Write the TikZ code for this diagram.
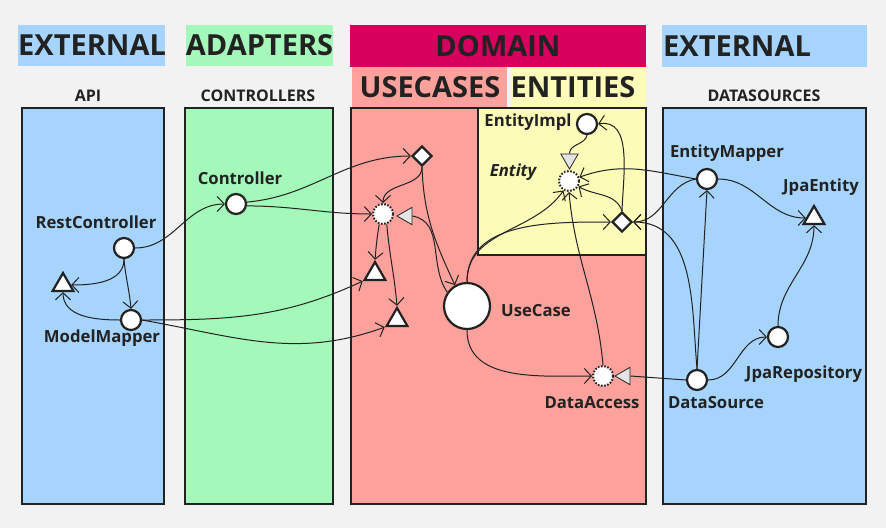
\documentclass[tikz,border=0pt]{standalone}
\usepackage{fontspec}
\setmainfont{Open Sans}
\usetikzlibrary{arrows.meta,shapes.geometric}
\definecolor{bg}{HTML}{F2F2F2}
\definecolor{extblue}{HTML}{A6D4FC}
\definecolor{adgreen}{HTML}{A3F8BA}
\definecolor{dommag}{HTML}{D8005F}
\definecolor{ucsalmon}{HTML}{FDA19C}
\definecolor{entyellow}{HTML}{FDFBB8}
\definecolor{ink}{HTML}{222222}
\definecolor{trigray}{HTML}{E4E4E4}
\begin{document}
\begin{tikzpicture}[x=1pt,y=1pt,
  every node/.style={text=ink},
  panel/.style={draw=ink, line width=2.5pt},
  hdr/.style={inner sep=0pt, font=\bfseries\fontsize{29}{31}\selectfont},
  sub/.style={font=\bfseries\fontsize{16}{18}\selectfont, inner sep=0pt},
  lbl/.style={font=\bfseries\fontsize{16.7}{19}\selectfont, inner sep=0pt},
  comp/.style={circle, draw=ink, fill=white, line width=2.2pt, minimum size=20pt, inner sep=0pt},
  iface/.style={circle, draw=ink, fill=white, line width=2pt, dash pattern=on 1.6pt off 1.6pt, minimum size=20pt, inner sep=0pt},
  dtri/.style={regular polygon, regular polygon sides=3, draw=ink, fill=white, line width=2.2pt, minimum size=24pt, inner sep=0pt},
  gtri/.style={regular polygon, regular polygon sides=3, draw=ink, fill=trigray, line width=0.8pt, minimum size=20pt, inner sep=0pt},
  dia/.style={diamond, draw=ink, fill=white, line width=2.2pt, minimum size=20pt, inner sep=0pt},
  dep/.style={draw=ink, line width=1pt, -{Straight Barb[length=7pt,width=15pt]}},
  real/.style={draw=ink, line width=1pt},
]
\fill[bg] (0,0) rectangle (886,-528);
\useasboundingbox (0,0) rectangle (886,-528);

% panels
\draw[panel, fill=extblue] (22,-108) rectangle (164,-504);
\draw[panel, fill=adgreen] (185,-108) rectangle (333,-504);
\draw[panel, fill=ucsalmon] (351,-108) rectangle (646,-504);
\draw[panel, fill=entyellow] (478,-108) rectangle (646,-255);
\draw[panel, fill=extblue] (663,-108) rectangle (866,-504);

% headers
\fill[extblue] (18,-25) rectangle (165,-66);
\node[hdr, anchor=west] (hExtL) at (18,-45.5) {EXTERNAL};
\fill[adgreen] (186,-25) rectangle (333,-66);
\node[hdr] (hAd) at (259.5,-45.5) {ADAPTERS};
\fill[dommag] (350,-25) rectangle (646,-67);
\node[hdr] (hDom) at (498,-46) {DOMAIN};
\fill[ucsalmon] (352,-67) rectangle (507,-107);
\node[hdr] (hUc) at (430,-87) {USECASES};
\fill[entyellow] (511,-67) rectangle (646,-107);
\node[hdr] (hEnt) at (573,-87) {ENTITIES};
\fill[extblue] (662,-25) rectangle (867,-67);
\node[hdr, anchor=west] (hExtR) at (663,-46) {EXTERNAL};

\node[sub] (sApi) at (88,-96) {API};
\node[sub] (sCtrl) at (258,-96) {CONTROLLERS};
\node[sub] (sDs) at (764,-96) {DATASOURCES};

% nodes
\node[comp] (rc) at (124,-248) {};
\node[comp] (ctrl) at (236,-204) {};
\node[comp] (mm) at (131,-320) {};
\node[dtri] (apiT) at (63,-285) {};
\node[dia] (ucD) at (422,-156) {};
\node[iface] (ucI) at (383,-214) {};
\node[gtri, shape border rotate=90] (ucIt) at (407,-216) {};
\node[dtri] (t1) at (375,-274) {};
\node[dtri] (t2) at (397,-320) {};
\node[comp, minimum size=46pt] (uc) at (467,-306) {};
\node[comp] (eImpl) at (587,-124) {};
\node[gtri, shape border rotate=180] (eT) at (569.5,-159) {};
\node[iface] (ent) at (569,-181) {};
\node[dia] (eD) at (622,-222) {};
\node[comp] (emap) at (707,-179) {};
\node[dtri] (jpaE) at (814,-218) {};
\node[comp] (jpaR) at (778,-337) {};
\node[comp] (ds) at (697,-380) {};
\node[iface] (da) at (603,-376) {};
\node[gtri, shape border rotate=90] (daT) at (625,-376) {};

% labels
\node[lbl] (lRc) at (96,-222) {RestController};
\node[lbl] (lCtrl) at (240,-178) {Controller};
\node[lbl] (lMm) at (102,-338) {ModelMapper};
\node[lbl] (lUc) at (536,-311) {UseCase};
\node[lbl] (lImpl) at (528,-122) {EntityImpl};
\node[lbl, font=\bfseries\itshape\fontsize{16.7}{19}\selectfont] (lEnt) at (513,-172) {Entity};
\node[lbl] (lEmap) at (727,-153) {EntityMapper};
\node[lbl] (lJpaE) at (821,-187) {JpaEntity};
\node[lbl] (lJpaR) at (804,-374) {JpaRepository};
\node[lbl] (lDs) at (716,-403) {DataSource};
\node[lbl] (lDa) at (592,-403) {DataAccess};

% connectors
\draw[dep] (rc.east) to[out=0,in=180] (ctrl.west);
\draw[dep] (ctrl.10) to[out=5,in=180] (ucD.west);
\draw[dep] (ctrl.-10) to[out=0,in=180] (ucI.west);
\draw[dep] (rc.south) to[out=-90,in=0] (apiT.east);
\draw[dep] (rc.south) to[out=-85,in=95] (mm.north);
\draw[dep] (mm.west) to[out=180,in=-90] (apiT.south);
\draw[dep] (mm.east) to[out=0,in=205] (t1.corner 2);
\draw[dep] (mm.east) to[out=-10,in=200] (t2.corner 2);
\draw[dep] (ucD.south) to[out=-90,in=90] (ucI.north);
\draw[dep] (ucD.south) to[out=-88,in=115] (uc.120);
\draw[dep] (ucI.-110) to[out=-100,in=85] (t1.corner 1);
\draw[dep] (ucI.-70) to[out=-85,in=95] (t2.corner 1);
\draw[real] (uc.145) to[out=125,in=-10] (ucIt.east);
\draw[dep] (uc.north) to[out=90,in=-125] (ent.-120);
\draw[dep] (uc.north) to[out=90,in=180] (eD.west);
\draw[dep] (uc.south) to[out=-90,in=180] (da.west);
\draw[dep] (da.north) to[out=95,in=-85] (ent.south);
\draw[real] (eImpl.south) to[out=-100,in=90] (eT.north);
\draw[dep] (eD.north) to[out=88,in=10] (eImpl.east);
\draw[dep] (eD.north) to[out=110,in=-30] (ent.-30);
\draw[dep] (emap.west) to[out=170,in=20] (ent.20);
\draw[dep] (emap.west) to[out=190,in=0] (eD.east);
\draw[dep] (ds.north) -- (emap.south);
\draw[dep] (ds.north) to[out=95,in=0] (eD.east);
\draw[real] (ds.west) -- (daT.east);
\draw[dep] (ds.east) to[out=0,in=180] (jpaR.west);
\draw[dep] (jpaR.north) to[out=90,in=-90] (jpaE.south);
\draw[dep] (emap.east) to[out=0,in=180] (jpaE.west);
\end{tikzpicture}
\end{document}
